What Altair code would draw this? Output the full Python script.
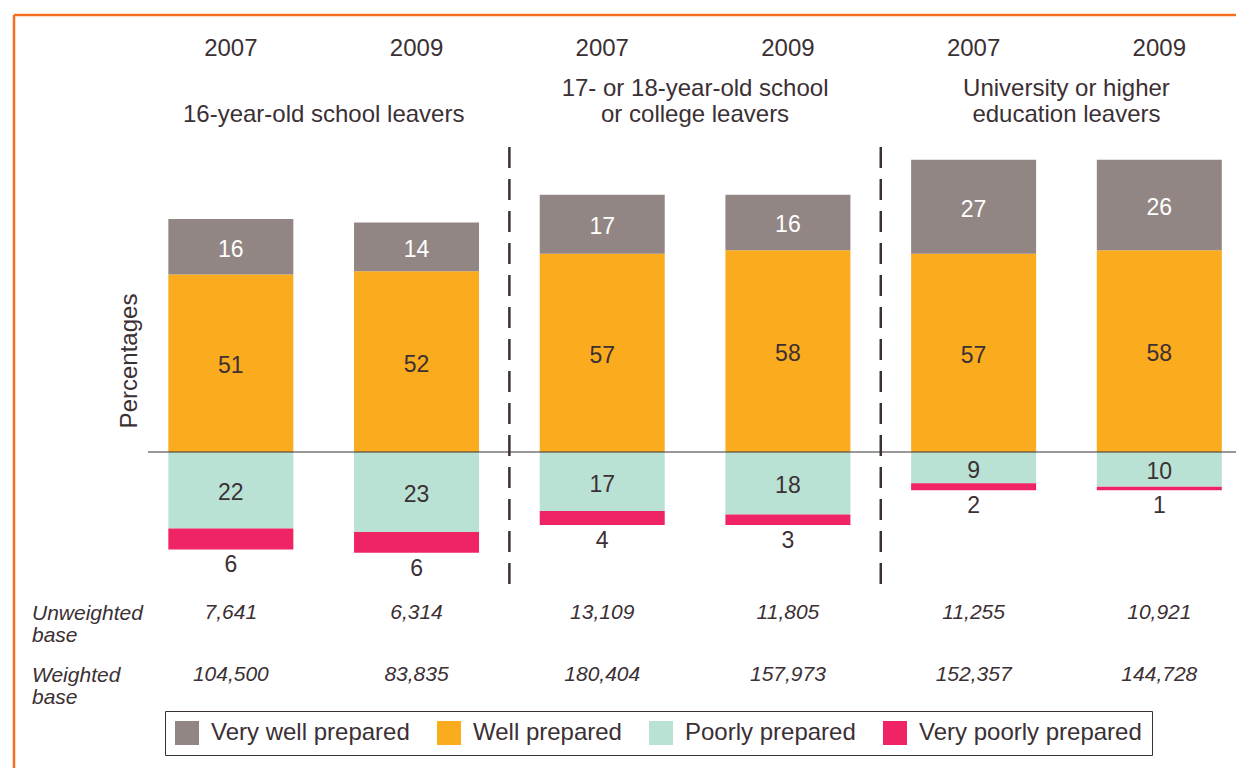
import altair as alt
import pandas as pd

# ---------------- data ----------------
group_titles = ["16-year-old school leavers",
                "17- or 18-year-old school\nor college leavers",
                "University or higher\neducation leavers"]
years = ["2007", "2009", "2007", "2009", "2007", "2009"]
categories = ["Very well prepared", "Well prepared", "Poorly prepared", "Very poorly prepared"]
very_well = [16, 14, 17, 16, 27, 26]
well = [51, 52, 57, 58, 57, 58]
poorly = [22, 23, 17, 18, 9, 10]
very_poorly = [6, 6, 4, 3, 2, 1]
unweighted = ["7,641", "6,314", "13,109", "11,805", "11,255", "10,921"]
weighted = ["104,500", "83,835", "180,404", "157,973", "152,357", "144,728"]
row_labels = ["Unweighted\nbase", "Weighted\nbase"]

colors = ["#928684", "#FBAB1E", "#BAE2D4", "#EE2465"]
TXT = "#3b3034"
FONT = "Liberation Sans"

# ---------------- tables ----------------
n = len(years)
idx = list(range(n))
rows = []
for i in idx:
    rows.append(dict(idx=i, cat=categories[1], y0=0, y1=well[i]))
    rows.append(dict(idx=i, cat=categories[0], y0=well[i], y1=well[i] + very_well[i]))
    rows.append(dict(idx=i, cat=categories[2], y0=0, y1=-poorly[i]))
    rows.append(dict(idx=i, cat=categories[3], y0=-poorly[i], y1=-poorly[i] - very_poorly[i]))
bars_df = pd.DataFrame(rows)

lab_rows = []
for i in idx:
    lab_rows.append(dict(idx=i, y=well[i] + very_well[i] / 2, t=str(very_well[i]), kind="w"))
    lab_rows.append(dict(idx=i, y=well[i] / 2, t=str(well[i]), kind="d"))
    lab_rows.append(dict(idx=i, y=-poorly[i] / 2, t=str(poorly[i]), kind="d"))
inner_df = pd.DataFrame(lab_rows)
below_df = pd.DataFrame(dict(idx=idx, y=[-(p + v) for p, v in zip(poorly, very_poorly)],
                             t=[str(v) for v in very_poorly]))
years_df = pd.DataFrame(dict(idx=idx, t=years))

# group titles split into lines, counted from the bottom line
title_rows = []
for g, t in enumerate(group_titles):
    parts = t.split("\n")
    for j, p in enumerate(parts):
        title_rows.append(dict(gx=2 * g + 0.5, k=len(parts) - 1 - j, t=p))
groups_df = pd.DataFrame(title_rows)

unw_df = pd.DataFrame(dict(idx=idx, t=unweighted))
wei_df = pd.DataFrame(dict(idx=idx, t=weighted))
div_df = pd.DataFrame(dict(dx=[1.5, 3.5]))
zero_df = pd.DataFrame(dict(v=[0]))
one_df = pd.DataFrame(dict(a=[0]))

W, H = 1228, 760
xscale = alt.Scale(domain=[-1.2, 5.413], nice=False, zero=False, padding=0)
yscale = alt.Scale(domain=[-90.86, 127.66], nice=False, zero=False, padding=0)
X = alt.X("idx:Q", scale=xscale, axis=None)

bars = alt.Chart(bars_df).mark_bar(size=125).encode(
    x=X,
    y=alt.Y("y0:Q", scale=yscale, axis=None),
    y2="y1:Q",
    color=alt.Color("cat:N", sort=categories,
                    scale=alt.Scale(domain=categories, range=colors),
                    legend=alt.Legend(title=None, orient="none", legendX=157, legendY=703,
                                      direction="horizontal", symbolType="square",
                                      symbolSize=576, symbolStrokeWidth=0,
                                      symbolOpacity=1,
                                      labelFont=FONT, labelFontSize=24, labelColor=TXT,
                                      labelOffset=12, columnPadding=27, padding=10,
                                      strokeColor=TXT, labelLimit=400)),
)

zero = alt.Chart(zero_df).mark_rule(color=TXT, strokeWidth=1.2).encode(
    y=alt.Y("v:Q", scale=yscale, axis=None), x=alt.value(140), x2=alt.value(W))

dividers = alt.Chart(div_df).mark_rule(color=TXT, strokeWidth=2.5, strokeDash=[21, 11]).encode(
    x=alt.X("dx:Q", scale=xscale, axis=None), y=alt.value(139), y2=alt.value(579))

inner = alt.Chart(inner_df).mark_text(font=FONT, fontSize=23, baseline="middle", dy=3).encode(
    x=X, y=alt.Y("y:Q", scale=yscale, axis=None), text="t:N",
    color=alt.Color("kind:N", scale=alt.Scale(domain=["w", "d"], range=["#ffffff", TXT]), legend=None))

below = alt.Chart(below_df).mark_text(font=FONT, fontSize=23, baseline="top", dy=5, color=TXT).encode(
    x=X, y=alt.Y("y:Q", scale=yscale, axis=None), text="t:N")

yrs = alt.Chart(years_df).mark_text(font=FONT, fontSize=24, baseline="middle", color=TXT).encode(
    x=X, y=alt.value(41), text="t:N")

grp = alt.Chart(groups_df).mark_text(font=FONT, fontSize=24, baseline="middle", color=TXT,
                                     align="center").encode(
    x=alt.X("gx:Q", scale=xscale, axis=None),
    y=alt.Y("k:Q", scale=alt.Scale(domain=[0, 1], range=[107, 81], nice=False, zero=False),
            axis=None),
    text="t:N")

unw = alt.Chart(unw_df).mark_text(font=FONT, fontSize=21, fontStyle="italic", baseline="middle",
                                  color=TXT).encode(x=X, y=alt.value(605), text="t:N")
wei = alt.Chart(wei_df).mark_text(font=FONT, fontSize=21, fontStyle="italic", baseline="middle",
                                  color=TXT).encode(x=X, y=alt.value(667), text="t:N")

rowlab_df = pd.DataFrame(dict(t=row_labels, ry=[612, 674]))
rowlab = alt.Chart(rowlab_df).mark_text(font=FONT, fontSize=21, fontStyle="italic",
                                        baseline="alphabetic", align="left", color=TXT,
                                        lineBreak="\n", lineHeight=22).encode(
    x=alt.value(24), y=alt.Y("ry:Q", scale=alt.Scale(domain=[0, H], range=[0, H]), axis=None),
    text="t:N")

ytitle = alt.Chart(one_df).mark_text(text="Percentages", font=FONT, fontSize=24, angle=270,
                                     baseline="middle", align="center", color=TXT).encode(
    x=alt.value(122), y=alt.value(353))

frame_top = alt.Chart(one_df).mark_rule(color="#F37021", strokeWidth=2.5).encode(
    x=alt.value(6), x2=alt.value(W), y=alt.value(7))
frame_left = alt.Chart(one_df).mark_rule(color="#F37021", strokeWidth=2.5).encode(
    x=alt.value(6), y=alt.value(7), y2=alt.value(H))

chart = alt.layer(
    frame_top, frame_left, bars, zero, dividers, inner, below, yrs, grp, unw, wei, rowlab, ytitle
).resolve_scale(y="independent", color="independent").properties(
    width=W, height=H, autosize=alt.AutoSizeParams(type="none"), padding=0
).configure_view(stroke=None)

chart.save("out.html", embed_options={"renderer": "svg", "actions": False})
